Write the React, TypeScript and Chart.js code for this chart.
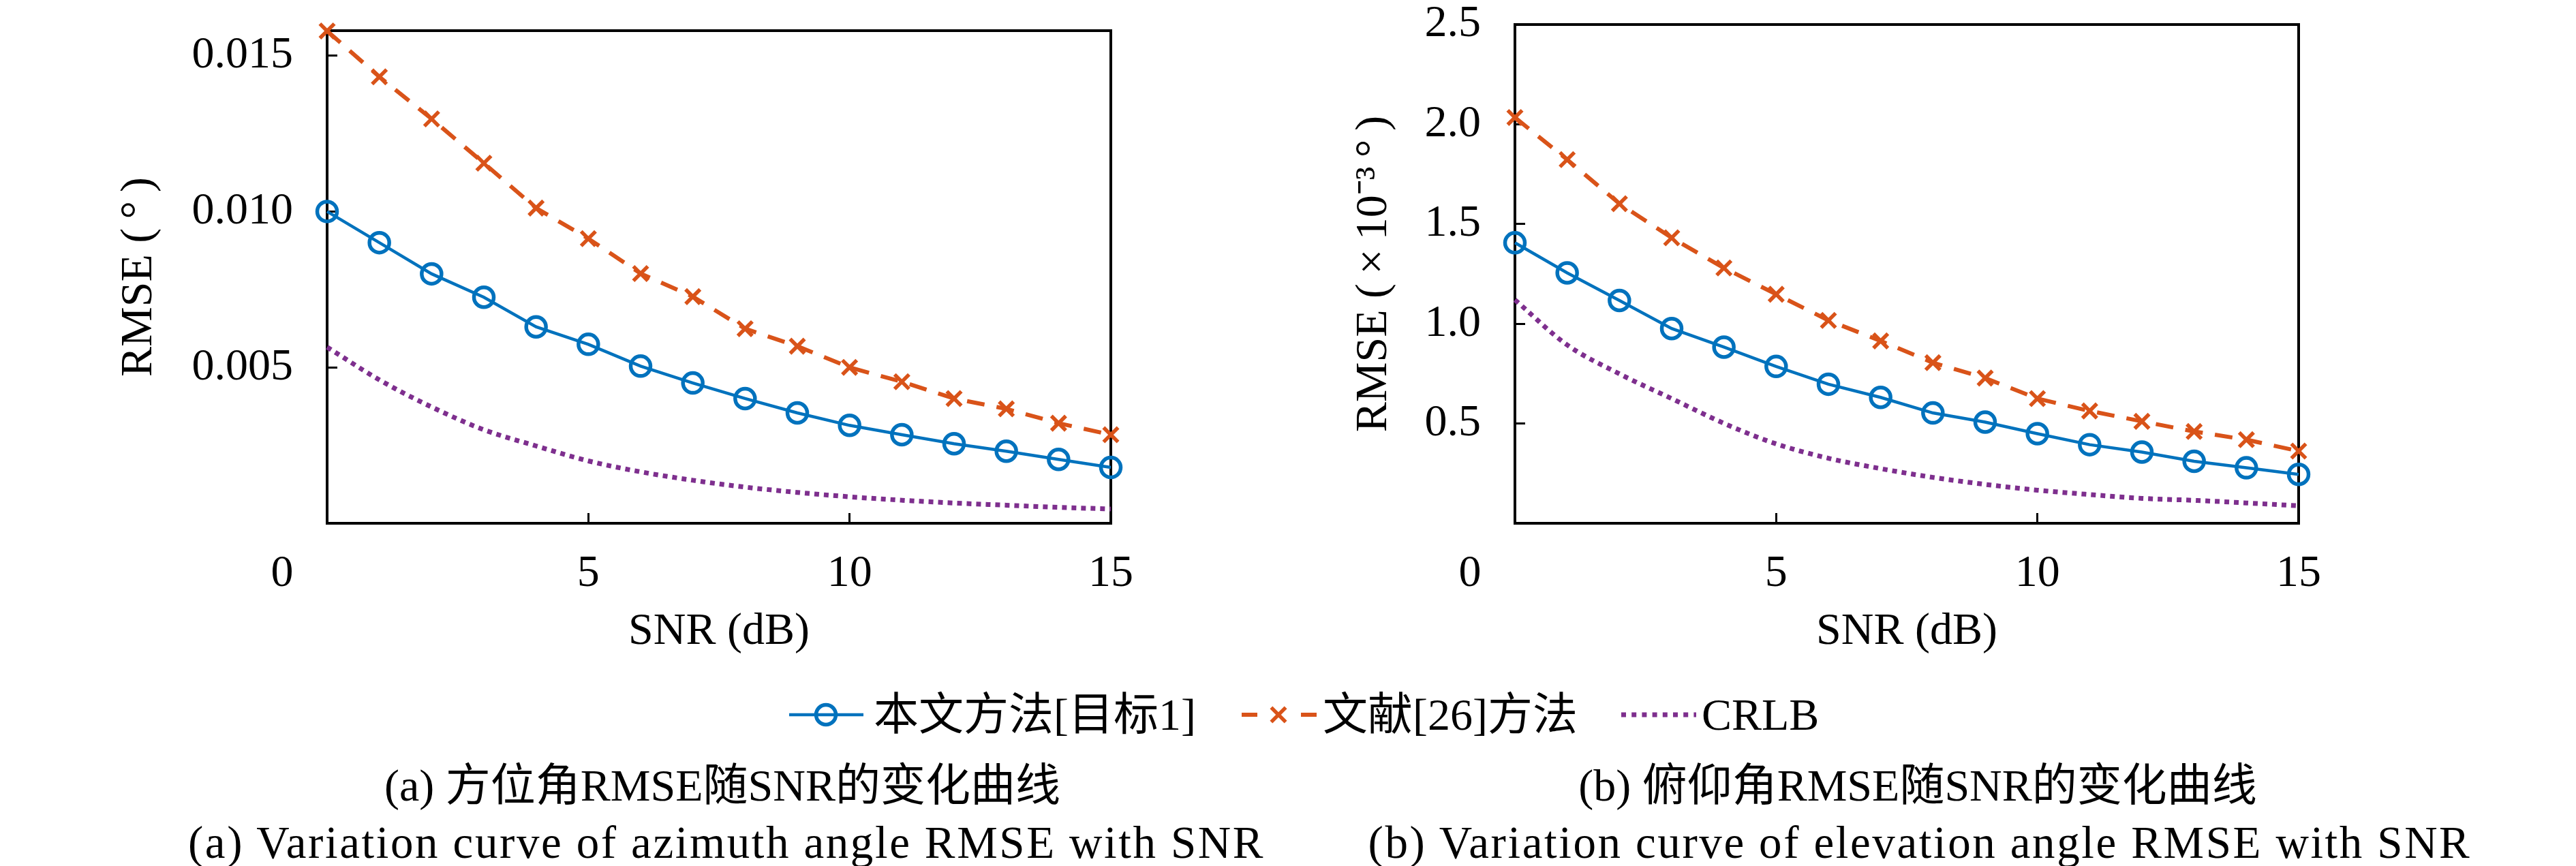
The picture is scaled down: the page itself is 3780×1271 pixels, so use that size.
import React, { useEffect, useRef } from 'react';
import { Chart, registerables } from 'chart.js';

Chart.register(...registerables);

// ---------------- data ----------------
const snr = [0, 1, 2, 3, 4, 5, 6, 7, 8, 9, 10, 11, 12, 13, 14, 15];

const azProposed = [0.0100, 0.0090, 0.0080, 0.00725, 0.0063, 0.00574, 0.00504, 0.0045, 0.0040, 0.00354, 0.00314, 0.00284, 0.00255, 0.00231, 0.00205, 0.00179];
const azRef26 = [0.01579, 0.01432, 0.01297, 0.01155, 0.01011, 0.00913, 0.00801, 0.00727, 0.00624, 0.00568, 0.0050, 0.00454, 0.0040, 0.00367, 0.00321, 0.00284];
const azCRLB = [0.00565, 0.0046, 0.00373, 0.0030, 0.00248, 0.0020, 0.00165, 0.00138, 0.00116, 0.00099, 0.00085, 0.00074, 0.00065, 0.00058, 0.00051, 0.00046];

const elProposed = [1.406, 1.255, 1.117, 0.976, 0.883, 0.786, 0.697, 0.631, 0.553, 0.507, 0.449, 0.394, 0.357, 0.311, 0.278, 0.245];
const elRef26 = [2.034, 1.823, 1.602, 1.431, 1.280, 1.148, 1.017, 0.914, 0.805, 0.728, 0.625, 0.563, 0.511, 0.460, 0.419, 0.362];
const elCRLB = [1.12, 0.894, 0.749, 0.625, 0.501, 0.398, 0.326, 0.274, 0.230, 0.195, 0.166, 0.144, 0.125, 0.115, 0.102, 0.088];

const xTicks = [0, 5, 10, 15];
const azYTicks = [0, 0.005, 0.010, 0.015];
const elYTicks = [0, 0.5, 1.0, 1.5, 2.0, 2.5];

const legendLabels = ['本文方法[目标1]', '文献[26]方法', 'CRLB'];
const xTitle = 'SNR (dB)';
const azYTitle = 'RMSE (\u2009°\u2009)';
const elYTitle = 'RMSE (\u2009×\u200910⁻³\u2009°\u2009)';
const captionA = ['(a) 方位角RMSE随SNR的变化曲线', '(a) Variation curve of azimuth angle RMSE with SNR'];
const captionB = ['(b) 俯仰角RMSE随SNR的变化曲线', '(b) Variation curve of elevation angle RMSE with SNR'];

// ---------------- style ----------------
const BLUE = '#0072BD';
const ORANGE = '#D95319';
const PURPLE = '#7E2F8E';
const FONT = "'Liberation Serif', 'Noto Sans CJK SC', serif";
const FS = 66;

const framePlugin = {
  id: 'frame',
  beforeDatasetsDraw(chart: any) {
    const { ctx, chartArea } = chart;
    ctx.save();
    ctx.strokeStyle = '#000';
    ctx.lineWidth = 4;
    ctx.strokeRect(chartArea.left, chartArea.top, chartArea.right - chartArea.left, chartArea.bottom - chartArea.top);
    ctx.restore();
  },
};

type Cfg = {
  width: number;
  height: number;
  plotLeft: number;
  plotTop: number;
  plotRight: number;
  plotBottom: number;
  yMax: number;
  yTicks: number[];
  yFmt: (v: number) => string;
  yTitle: string;
  yTitlePad: number;
  proposed: number[];
  ref26: number[];
  crlb: number[];
};

function buildChart(canvas: HTMLCanvasElement, c: Cfg) {
  const pts = (arr: number[]) => snr.map((x, i) => ({ x, y: arr[i] }));
  return new Chart(canvas, {
    type: 'line',
    data: {
      datasets: [
        {
          label: legendLabels[0],
          data: pts(c.proposed),
          borderColor: BLUE,
          borderWidth: 4.5,
          pointStyle: 'circle',
          pointRadius: 14.5,
          pointBorderWidth: 5.5,
          pointBorderColor: BLUE,
          pointBackgroundColor: 'rgba(0,0,0,0)',
          tension: 0,
          clip: false as any,
        },
        {
          label: legendLabels[1],
          data: pts(c.ref26),
          borderColor: ORANGE,
          borderWidth: 6,
          borderDash: [26, 18],
          pointStyle: 'crossRot',
          pointRadius: 15,
          pointBorderWidth: 5.5,
          pointBorderColor: ORANGE,
          pointBackgroundColor: ORANGE,
          tension: 0,
          clip: false as any,
        },
        {
          label: legendLabels[2],
          data: pts(c.crlb),
          borderColor: PURPLE,
          borderWidth: 7,
          borderDash: [7, 7],
          borderCapStyle: 'butt',
          pointRadius: 0,
          cubicInterpolationMode: 'monotone',
          clip: false as any,
        },
      ],
    },
    options: {
      animation: false,
      responsive: false,
      devicePixelRatio: 1,
      events: [],
      layout: {
        padding: { left: 0, top: c.plotTop, right: c.width - c.plotRight, bottom: 0 },
      },
      plugins: { legend: { display: false }, tooltip: { enabled: false } },
      scales: {
        x: {
          type: 'linear',
          min: 0,
          max: 15,
          afterBuildTicks: (s: any) => {
            s.ticks = xTicks.map((v) => ({ value: v }));
          },
          afterFit: (s: any) => {
            s.height = c.height - c.plotBottom;
            s.paddingLeft = 0;
            s.paddingRight = 0;
            s.paddingTop = 0;
            s.paddingBottom = 0;
          },
          border: { display: false },
          grid: { drawOnChartArea: false, drawTicks: true, tickLength: -15, tickWidth: 3, tickColor: '#000' },
          ticks: {
            autoSkip: false,
            maxRotation: 0,
            padding: 50,
            color: '#000',
            font: { family: FONT, size: FS },
            callback: (v: any) => (Number(v) === 0 ? '0\u2003\u2003' : String(v)),
          },
          title: {
            display: true,
            text: xTitle,
            color: '#000',
            font: { family: FONT, size: FS },
            padding: { top: 0, bottom: 33 },
          },
        },
        y: {
          type: 'linear',
          min: 0,
          max: c.yMax,
          afterBuildTicks: (s: any) => {
            s.ticks = c.yTicks.map((v) => ({ value: v }));
          },
          afterFit: (s: any) => {
            s.width = c.plotLeft;
            s.paddingLeft = 0;
            s.paddingRight = 0;
            s.paddingTop = 0;
            s.paddingBottom = 0;
          },
          border: { display: false },
          grid: { drawOnChartArea: false, drawTicks: true, tickLength: -15, tickWidth: 3, tickColor: '#000' },
          ticks: {
            autoSkip: false,
            padding: 65,
            color: '#000',
            font: { family: FONT, size: FS, lineHeight: 1 },
            callback: (v: any) => (Number(v) === 0 ? '' : c.yFmt(Number(v))),
          },
          title: {
            display: true,
            text: c.yTitle,
            color: '#000',
            font: { family: FONT, size: FS },
            padding: { top: c.yTitlePad, bottom: 0 },
          },
        },
      },
    } as any,
    plugins: [framePlugin],
  });
}

function ChartPanel({ left, cfg }: { left: number; cfg: Cfg }) {
  const ref = useRef<HTMLCanvasElement | null>(null);
  useEffect(() => {
    if (!ref.current) return;
    const ch = buildChart(ref.current, cfg);
    return () => ch.destroy();
  }, []);
  return (
    <canvas
      ref={ref}
      width={cfg.width}
      height={cfg.height}
      style={{ position: 'absolute', left, top: 0, width: cfg.width, height: cfg.height }}
    />
  );
}

function Swatch({ kind, left, center }: { kind: number; left: number; center: number }) {
  const ref = useRef<HTMLCanvasElement | null>(null);
  const W = 112;
  const H = 50;
  useEffect(() => {
    const cv = ref.current;
    if (!cv) return;
    const ctx = cv.getContext('2d')!;
    ctx.clearRect(0, 0, W, H);
    const y = H / 2;
    ctx.lineCap = 'butt';
    if (kind === 0) {
      ctx.strokeStyle = BLUE;
      ctx.lineWidth = 4.5;
      ctx.beginPath();
      ctx.moveTo(1, y);
      ctx.lineTo(110, y);
      ctx.stroke();
      ctx.lineWidth = 5.5;
      ctx.beginPath();
      ctx.arc(55, y, 14.5, 0, Math.PI * 2);
      ctx.stroke();
    } else if (kind === 1) {
      ctx.strokeStyle = ORANGE;
      ctx.lineWidth = 6;
      ctx.setLineDash([23, 64]);
      ctx.beginPath();
      ctx.moveTo(1, y);
      ctx.lineTo(111, y);
      ctx.stroke();
      ctx.setLineDash([]);
      ctx.lineWidth = 5.5;
      const r = 15 * Math.SQRT1_2;
      ctx.beginPath();
      ctx.moveTo(55 - r, y - r);
      ctx.lineTo(55 + r, y + r);
      ctx.moveTo(55 + r, y - r);
      ctx.lineTo(55 - r, y + r);
      ctx.stroke();
    } else {
      ctx.strokeStyle = PURPLE;
      ctx.lineWidth = 7;
      ctx.setLineDash([7, 8.2]);
      ctx.beginPath();
      ctx.moveTo(1, y);
      ctx.lineTo(111, y);
      ctx.stroke();
    }
  }, []);
  return (
    <canvas
      ref={ref}
      width={W}
      height={H}
      style={{ position: 'absolute', left, top: center - H / 2, width: W, height: H }}
    />
  );
}

const textStyle: React.CSSProperties = {
  position: 'absolute',
  fontFamily: FONT,
  fontSize: FS,
  lineHeight: `${FS}px`,
  color: '#000',
  whiteSpace: 'nowrap',
};

const enCaption: React.CSSProperties = { ...textStyle, fontSize: 67, letterSpacing: '2.6px' };

export default function App() {
  const azCfg: Cfg = {
    width: 1900,
    height: 1000,
    plotLeft: 480,
    plotTop: 45,
    plotRight: 1630,
    plotBottom: 768,
    yMax: 0.0158,
    yTicks: azYTicks,
    yFmt: (v) => v.toFixed(3),
    yTitle: azYTitle,
    yTitlePad: 165,
    proposed: azProposed,
    ref26: azRef26,
    crlb: azCRLB,
  };
  const elCfg: Cfg = {
    width: 1880,
    height: 1000,
    plotLeft: 323,
    plotTop: 36,
    plotRight: 1473,
    plotBottom: 768,
    yMax: 2.5,
    yTicks: elYTicks,
    yFmt: (v) => v.toFixed(1),
    yTitle: elYTitle,
    yTitlePad: 77,
    proposed: elProposed,
    ref26: elRef26,
    crlb: elCRLB,
  };
  const legendY = 1049;
  return (
    <div style={{ position: 'absolute', left: 0, top: 0, width: 3780, height: 1271, background: '#fff', overflow: 'hidden' }}>
      <ChartPanel left={0} cfg={azCfg} />
      <ChartPanel left={1900} cfg={elCfg} />

      <Swatch kind={0} left={1157} center={legendY} />
      <div style={{ ...textStyle, left: 1282, top: legendY - FS / 2 }}>{legendLabels[0]}</div>
      <Swatch kind={1} left={1821} center={legendY} />
      <div style={{ ...textStyle, left: 1941, top: legendY - FS / 2 }}>{legendLabels[1]}</div>
      <Swatch kind={2} left={2378} center={legendY} />
      <div style={{ ...textStyle, left: 2497, top: legendY - FS / 2 }}>{legendLabels[2]}</div>

      <div style={{ ...textStyle, left: 1060 - 1000, width: 2000, textAlign: 'center', top: 1153 - FS / 2 }}>{captionA[0]}</div>
      <div style={{ ...enCaption, left: 1066 - 1000, width: 2000, textAlign: 'center', top: 1236 - FS / 2 }}>{captionA[1]}</div>
      <div style={{ ...textStyle, left: 2814 - 1000, width: 2000, textAlign: 'center', top: 1153 - FS / 2 }}>{captionB[0]}</div>
      <div style={{ ...enCaption, left: 2817 - 1000, width: 2000, textAlign: 'center', top: 1236 - FS / 2 }}>{captionB[1]}</div>
    </div>
  );
}
